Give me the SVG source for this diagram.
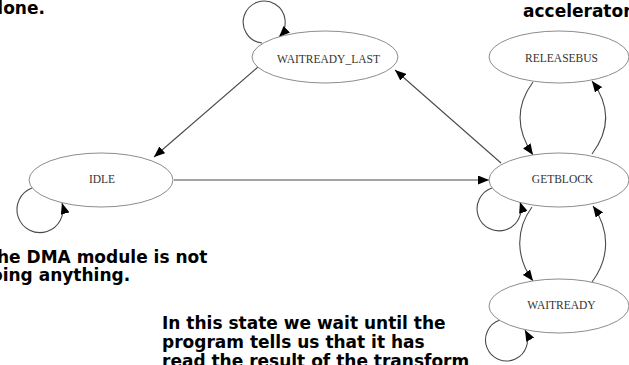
<svg xmlns="http://www.w3.org/2000/svg" width="629" height="365" viewBox="0 0 629 365">
  <style>
    .state ellipse { fill: #ffffff; stroke: #8c8c8c; stroke-width: 1; }
    .state text { font-family: "Liberation Serif", "Times New Roman", serif; font-size: 11.5px; fill: #333333; text-anchor: middle; }
    .edge { fill: none; stroke: #4a4a4a; stroke-width: 1.1; marker-end: url(#arrow); }
    .note { font-family: "DejaVu Sans", Verdana, sans-serif; font-weight: bold; font-size: 17px; fill: #000000; }
  </style>
  <defs>
    <marker id="arrow" markerUnits="userSpaceOnUse" markerWidth="11" markerHeight="9" refX="11" refY="4.5" orient="auto">
      <path d="M0,0 L11,4.5 L0,9 z" fill="#000000"/>
    </marker>
  </defs>

  <rect width="629" height="365" fill="#ffffff"/>

  <!-- annotations -->
  <text class="note" x="-2.7" y="13.5">lone.</text>
  <text class="note" x="523" y="16.5">accelerator</text>
  <text class="note" x="-3" y="263">he DMA module is not</text>
  <text class="note" x="-9" y="280.5">oing anything.</text>
  <text class="note" x="162" y="329">In this state we wait until the</text>
  <text class="note" x="162" y="348">program tells us that it has</text>
  <text class="note" x="162" y="367">read the result of the transform</text>

  <!-- transitions -->
  <g id="connectors">
    <path class="edge" d="M174,180 L489,180"/>
    <path class="edge" d="M258,67 L154,157"/>
    <path class="edge" d="M501,163 L395,70"/>
    <path class="edge" d="M262,43 A21,21 0 1 1 279,37"/>
    <path class="edge" d="M32,188 A23,23 0 1 0 62,203"/>
    <path class="edge" d="M492,188 A22,22 0 1 0 520,202"/>
    <path class="edge" d="M500,320 A21,21 0 1 0 525,330"/>
    <path class="edge" d="M533,82 C516,105 516,130 533,155"/>
    <path class="edge" d="M592,154 C610,130 610,105 592,81"/>
    <path class="edge" d="M532,207 C515,230 516,258 533,281"/>
    <path class="edge" d="M592,282 C610,258 610,230 593,206"/>
  </g>

  <!-- states -->
  <g id="waitready_last" class="state">
    <ellipse cx="325" cy="57" rx="73" ry="26"/>
    <text x="328.5" y="63">WAITREADY_LAST</text>
  </g>
  <g id="releasebus" class="state">
    <ellipse cx="559" cy="57" rx="70" ry="26"/>
    <text x="561.5" y="62">RELEASEBUS</text>
  </g>
  <g id="idle" class="state">
    <ellipse cx="101" cy="180" rx="72" ry="27"/>
    <text x="102" y="183">IDLE</text>
  </g>
  <g id="getblock" class="state">
    <ellipse cx="559" cy="180" rx="70" ry="27"/>
    <text x="562.5" y="183">GETBLOCK</text>
  </g>
  <g id="waitready" class="state">
    <ellipse cx="559" cy="306" rx="70" ry="27"/>
    <text x="561.5" y="309">WAITREADY</text>
  </g>
</svg>
